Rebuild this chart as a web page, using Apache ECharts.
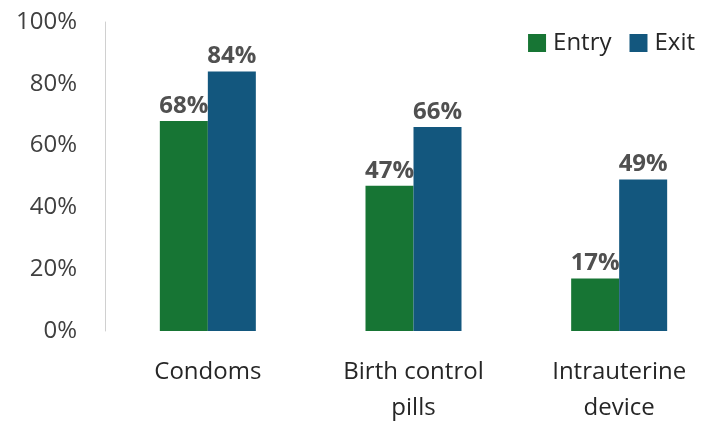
<!DOCTYPE html>
<html><head><meta charset="utf-8">
<script src="https://cdn.jsdelivr.net/npm/echarts@6/dist/echarts.min.js"></script>
<style>html,body{margin:0;padding:0;background:#fff}#c{width:715px;height:422px}</style>
</head><body><div id="c"></div>
<script>
const categories = ['Condoms', 'Birth control\npills', 'Intrauterine\ndevice'];
const entry = [68, 47, 17];
const exit = [84, 66, 49];
const yTicks = [0, 20, 40, 60, 80, 100];

const font = 'Open Sans';
const chart = echarts.init(document.getElementById('c'));
const labelOpt = {
  show: true, position: 'top', distance: 3,
  formatter: p => p.value + '%',
  fontFamily: font, fontSize: 24, fontWeight: 'bold', color: '#505050'
};
chart.setOption({
  animation: false,
  grid: { left: 105, top: 22, width: 617, height: 309, containLabel: false, outerBoundsMode: 'none' },
  legend: {
    right: 15, top: 26, itemWidth: 18, itemHeight: 18, itemGap: 18,
    icon: 'rect',
    textStyle: { fontFamily: font, fontSize: 24, color: '#262626', padding: [0, 0, 0, 2] },
    data: ['Entry', 'Exit']
  },
  xAxis: {
    type: 'category', data: categories,
    axisLine: { show: false }, axisTick: { show: false },
    axisLabel: { fontFamily: font, fontSize: 24, color: '#262626', margin: 23, lineHeight: 36 }
  },
  yAxis: {
    type: 'value', min: yTicks[0], max: yTicks[yTicks.length - 1], interval: 20,
    axisLine: { show: true, lineStyle: { color: '#d0d0d0', width: 1 } },
    axisTick: { show: false }, splitLine: { show: false },
    axisLabel: { fontFamily: font, fontSize: 24, color: '#404040', margin: 28, formatter: v => v + '%' }
  },
  series: [
    { name: 'Entry', type: 'bar', data: entry, barWidth: 48, barGap: '0%',
      itemStyle: { color: '#177534' }, label: labelOpt },
    { name: 'Exit', type: 'bar', data: exit, barWidth: 48,
      itemStyle: { color: '#13577e' }, label: labelOpt }
  ]
});
</script></body></html>
